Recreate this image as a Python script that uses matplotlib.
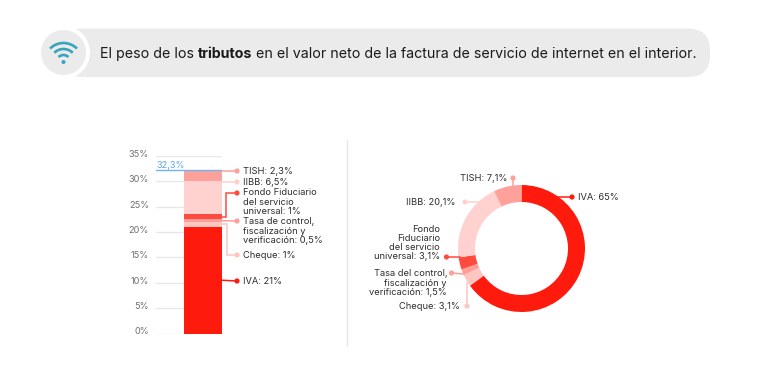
import numpy as np
import matplotlib
matplotlib.use("Agg")
import matplotlib.pyplot as plt
import matplotlib.patches as patches

plt.rcParams['font.family'] = ['Inter', 'DejaVu Sans']

# --- DATA ---
TITLE_PARTS = [("El peso de los ", "normal"), ("tributos", "bold"),
               (" en el valor neto de la factura de servicio de internet en el interior.", "normal")]
BAR_NAMES = ["IVA", "Cheque", "Tasa", "Fondo", "IIBB", "TISH"]
BAR_VALUES = [21, 1, 0.5, 1, 6.5, 2.3]
BAR_TOTAL = 32.3
BAR_TICKS = [0, 5, 10, 15, 20, 25, 30, 35]
DONUT_VALUES = [65, 3.1, 1.5, 3.1, 20.1, 7.1]
COLORS = ["#ff1a0e", "#ffc5c1", "#ff9d97", "#ff4a3d", "#ffd2cf", "#ffa19b"]
BAR_LABELS = ["IVA: 21%", "Cheque: 1%", "Tasa de control,\nfiscalización y\nverificación: 0,5%",
              "Fondo Fiduciario\ndel servicio\nuniversal: 1%", "IIBB: 6,5%", "TISH: 2,3%"]
DONUT_LABELS = ["IVA: 65%", "Cheque: 3,1%", "Tasa del control,\nfiscalización y\nverificación: 1,5%",
                "Fondo\nFiduciario\ndel servicio\nuniversal: 3,1%", "IIBB: 20,1%", "TISH: 7,1%"]

TEXT_COLOR = "#2e2e2e"
W, H = 770, 392


def px_axes(fig, x0, y0, x1, y1, **kw):
    # axes from pixel box, y measured from the top
    return fig.add_axes([x0 / W, 1 - y1 / H, (x1 - x0) / W, (y1 - y0) / H], **kw)


fig = plt.figure(figsize=(W / 100, H / 100), dpi=100, facecolor="white")

# overlay in pixel coordinates for header, leaders and labels
ov = fig.add_axes([0, 0, 1, 1], zorder=5)
ov.set_xlim(0, W)
ov.set_ylim(H, 0)
ov.axis("off")
ov.patch.set_alpha(0)

# --- HEADER ---
ov.add_patch(patches.FancyBboxPatch((60, 28.5), 650, 48.5, boxstyle="round,pad=0,rounding_size=22",
                                    fc="#ebebeb", ec="none"))
ov.add_patch(patches.Circle((63.5, 52.5), 26.5, fc="white", ec="none"))
ov.add_patch(patches.Circle((63.5, 52.5), 22.5, fc="#ebebeb", ec="none"))
WIFI = "#35a4bd"
for d in [38, 26, 14]:
    ov.add_patch(patches.Arc((63.5, 62), d, d, theta1=225, theta2=315, color=WIFI, lw=1.9))
ov.add_patch(patches.Circle((63.5, 62), 2.0, fc=WIFI, ec="none"))

renderer = fig.canvas.get_renderer()
x = 100
for part, weight in TITLE_PARTS:
    t = ov.text(x, 53.5, part, fontsize=10.22, fontweight=weight, color="#1a1a1a", va="center", ha="left")
    x += t.get_window_extent(renderer).width

# divider
ov.plot([347, 347], [140, 345], color="#e6e6e6", lw=1)

# --- STACKED BAR ---
ax = px_axes(fig, 156, 156, 222, 333.5)
ax.set_xlim(-0.5 - 28 / 38, 0.5)
ax.set_ylim(0, 35)
bottom = 0
mids = []
for val, col in zip(BAR_VALUES, COLORS):
    ax.bar([0], [val], bottom=bottom, width=1, color=col, edgecolor="none", zorder=3)
    mids.append(bottom + val / 2)
    bottom += val
ax.set_yticks(BAR_TICKS)
ax.set_yticklabels([])
ax.set_xticks([])
ax.tick_params(axis="y", length=0)
# tick labels sit a little above their grid lines
for v in BAR_TICKS:
    ax.annotate(f"{v}%", xy=(0, v), xycoords=ax.get_yaxis_transform(), xytext=(-5, 1.2),
                textcoords="offset points", ha="right", va="center", fontsize=6.6, color="#707070",
                annotation_clip=False)
ax.grid(axis="y", color="#e8e8e8", lw=1, zorder=0)
ax.set_axisbelow(True)
for s in ax.spines.values():
    s.set_visible(False)
ax.axhline(BAR_TOTAL, color="#6db5ea", lw=1, zorder=4)
ov.text(156, 165.8, "32,3%", fontsize=6.6, color="#5aa9e6", va="center", ha="left")


def to_ov(a, xy):
    return ov.transData.inverted().transform(a.transData.transform(xy))


# leader: starts at the bar edge, optional elbow, end dot
bar_ends = [(237, 281), (237, 255), (237, 221), (237, 193), (237, 182), (237, 171)]
bar_elbow = [None, 227, None, 226, None, None]
bar_text_y = [281.5, 255, 231, 202, 182.5, 171]
bar_flat = [False, False, False, False, True, True]  # IIBB and TISH run straight from the dot
for i, mid in enumerate(mids):
    sx, sy = to_ov(ax, (0.5, mid))
    ex, ey = bar_ends[i]
    if bar_flat[i]:
        sy = ey
    col = COLORS[i]
    if bar_elbow[i]:
        ov.plot([sx, bar_elbow[i], bar_elbow[i], ex], [sy, sy, ey, ey], color=col, lw=1.1, solid_joinstyle="miter")
    else:
        ov.plot([sx, ex], [sy, ey], color=col, lw=1.1)
    ov.add_patch(patches.Circle((ex, ey), 2.6, fc=col, ec="none"))
    ov.text(243, bar_text_y[i], BAR_LABELS[i], fontsize=6.7, color=TEXT_COLOR, va="center", ha="left",
            linespacing=1.02)

# --- DONUT ---
cx, cy, r_out, r_in = 521.5, 248.5, 63.5, 46.5
ax2 = px_axes(fig, cx - r_out, cy - r_out, cx + r_out, cy + r_out)
ax2.pie(DONUT_VALUES, colors=COLORS, startangle=90, counterclock=False, radius=1,
        wedgeprops=dict(width=(r_out - r_in) / r_out, edgecolor="none"))
ax2.set_xlim(-1, 1)
ax2.set_ylim(-1, 1)

donut_leaders = [
    [(556, 197), (572, 197)],
    [(467, 283), (467, 306)],
    [(464, 274), (451.5, 273)],
    [(460, 257), (446.5, 257)],
    [(478, 202), (465, 202)],
    [(513, 186), (513, 178)],
]
donut_text = [(578, 197, "left"), (460, 306.5, "right"), (447, 283, "right"),
              (440, 243, "right"), (455, 202, "right"), (507, 178, "right")]
for i in range(len(DONUT_VALUES)):
    (sx, sy), (ex, ey) = donut_leaders[i]
    col = COLORS[i]
    ov.plot([sx, ex], [sy, ey], color=col, lw=1.1)
    ov.add_patch(patches.Circle((ex, ey), 2.6, fc=col, ec="none"))
    tx, ty, ha = donut_text[i]
    ov.text(tx, ty, DONUT_LABELS[i], fontsize=6.7, color=TEXT_COLOR, va="center", ha=ha, multialignment=ha,
            linespacing=1.02)

plt.savefig("out.png", dpi=100)
